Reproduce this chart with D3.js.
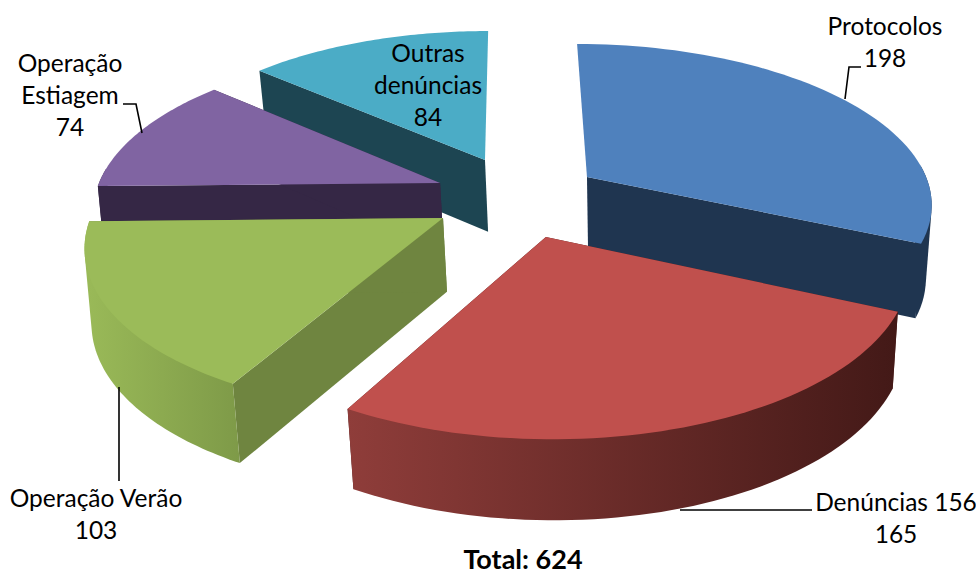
<!DOCTYPE html>
<html><head><meta charset="utf-8">
<script src="https://cdn.jsdelivr.net/npm/d3@7"></script>
<style>html,body{margin:0;background:#fff}text{font-family:Lato,"Open Sans",sans-serif;fill:#000}</style>
</head><body><svg id="c" width="976" height="574"></svg>
<script>
const categories=["Protocolos","Denúncias 156","Operação Verão","Operação Estiagem","Outras denúncias"];
const values=[198,165,103,74,84];
const total=624;
const topColors=["#4F81BD","#C0504D","#9BBB59","#8064A2","#4BACC6"];
const sideColors=["#1F3550","#4F1E1C","#6F8540","#352745","#1D4552"];
const wallStart=["#1F3550","#8F3D3A","#9ABA58","#352745","#1D4552"];
const wallEnd=["#1F3550","#431917","#7E9A48","#352745","#1D4552"];
// explosion of each slice, disc units (x, y) from the common centre
const explodeX=[0.227,0.10,-0.19,-0.205,-0.075];
const explodeY=[-0.116,0.255,0.1425,-0.0768,-0.229];
const drawOrder=[4,3,0,2,1];

const cx=510,cy=195,rx=345,ry=158,persp=0.15,depth=73,vanishX=640;
const svg=d3.select("#c");
const defs=svg.append("defs");
const pie=d3.pie().sort(null).value(d=>d);
const arcs=pie(values);
function project(X,Y,z){
  const f=1/(1-persp*Y);
  const x=cx+X*rx*f, y=cy+Y*ry*f;
  if(!z) return [x,y];
  const shift=Math.min(0.02*(vanishX-x),7);
  return [x+shift, y+depth*Math.sqrt(f)];
}
function faceVisible(apex,p){
  const ex=p[0]-apex[0], ey=p[1]-apex[1];
  return Math.abs(ex)/Math.hypot(ex,ey)>0.1;
}
const line=d3.line();
drawOrder.forEach(i=>{
  const a=arcs[i];
  const ax=explodeX[i], ay=explodeY[i];
  const steps=d3.range(0,61).map(k=>a.startAngle+(a.endAngle-a.startAngle)*k/60);
  const rim=steps.map(t=>[ax+Math.sin(t),ay-Math.cos(t)]);
  const up=rim.map(p=>project(p[0],p[1],false));
  const low=rim.map(p=>project(p[0],p[1],true));
  const apexT=project(ax,ay,false), apexB=project(ax,ay,true);
  const g=svg.append("g");
  [0,up.length-1].forEach(j=>{
    if(faceVisible(apexT,up[j])) g.append("path").attr("d",line([apexT,up[j],low[j],apexB])+"Z").attr("fill",sideColors[i]);
  });
  const gid="w"+i;
  const lg=defs.append("linearGradient").attr("id",gid);
  lg.append("stop").attr("offset","0%").attr("stop-color",wallStart[i]);
  lg.append("stop").attr("offset","100%").attr("stop-color",wallEnd[i]);
  // wall only over the part of the rim that faces the viewer; the hull gives the extruded silhouette
  const front=d3.range(up.length).filter(k=>Math.cos(steps[k])<0.1);
  if(front.length>2){
    const hull=d3.polygonHull(front.map(k=>up[k]).concat(front.map(k=>low[k])));
    g.append("path").attr("d",line(hull)+"Z").attr("fill",`url(#${gid})`);
  }
  g.append("path").attr("d",line([apexT].concat(up))+"Z").attr("fill",topColors[i]);
});
const labels=[
 {lines:["Protocolos",String(values[0])],x:885,y:35},
 {lines:["Denúncias 156",String(values[1])],x:896,y:511},
 {lines:["Operação Verão",String(values[2])],x:96,y:507},
 {lines:["Operação","Estiagem",String(values[3])],x:70,y:72},
 {lines:["Outras","denúncias",String(values[4])],x:428,y:62}
];
labels.forEach(l=>{
  const t=svg.append("text").attr("text-anchor","middle").attr("font-size",24.5);
  l.lines.forEach((s,k)=>t.append("tspan").attr("x",l.x).attr("y",l.y+k*32).text(s));
});
svg.append("text").attr("x",523).attr("y",569).attr("text-anchor","middle").attr("font-size",27).attr("font-weight",700).text("Total: "+total);
const leaders=[[[845,99],[849,67],[861,67]],[[812,510],[680,510]],[[119,481],[119,387]],[[123,104],[136,104],[142,133]]];
leaders.forEach(p=>svg.append("path").attr("d",line(p)).attr("fill","none").attr("stroke","#000").attr("stroke-width",1.6));
</script></body></html>
